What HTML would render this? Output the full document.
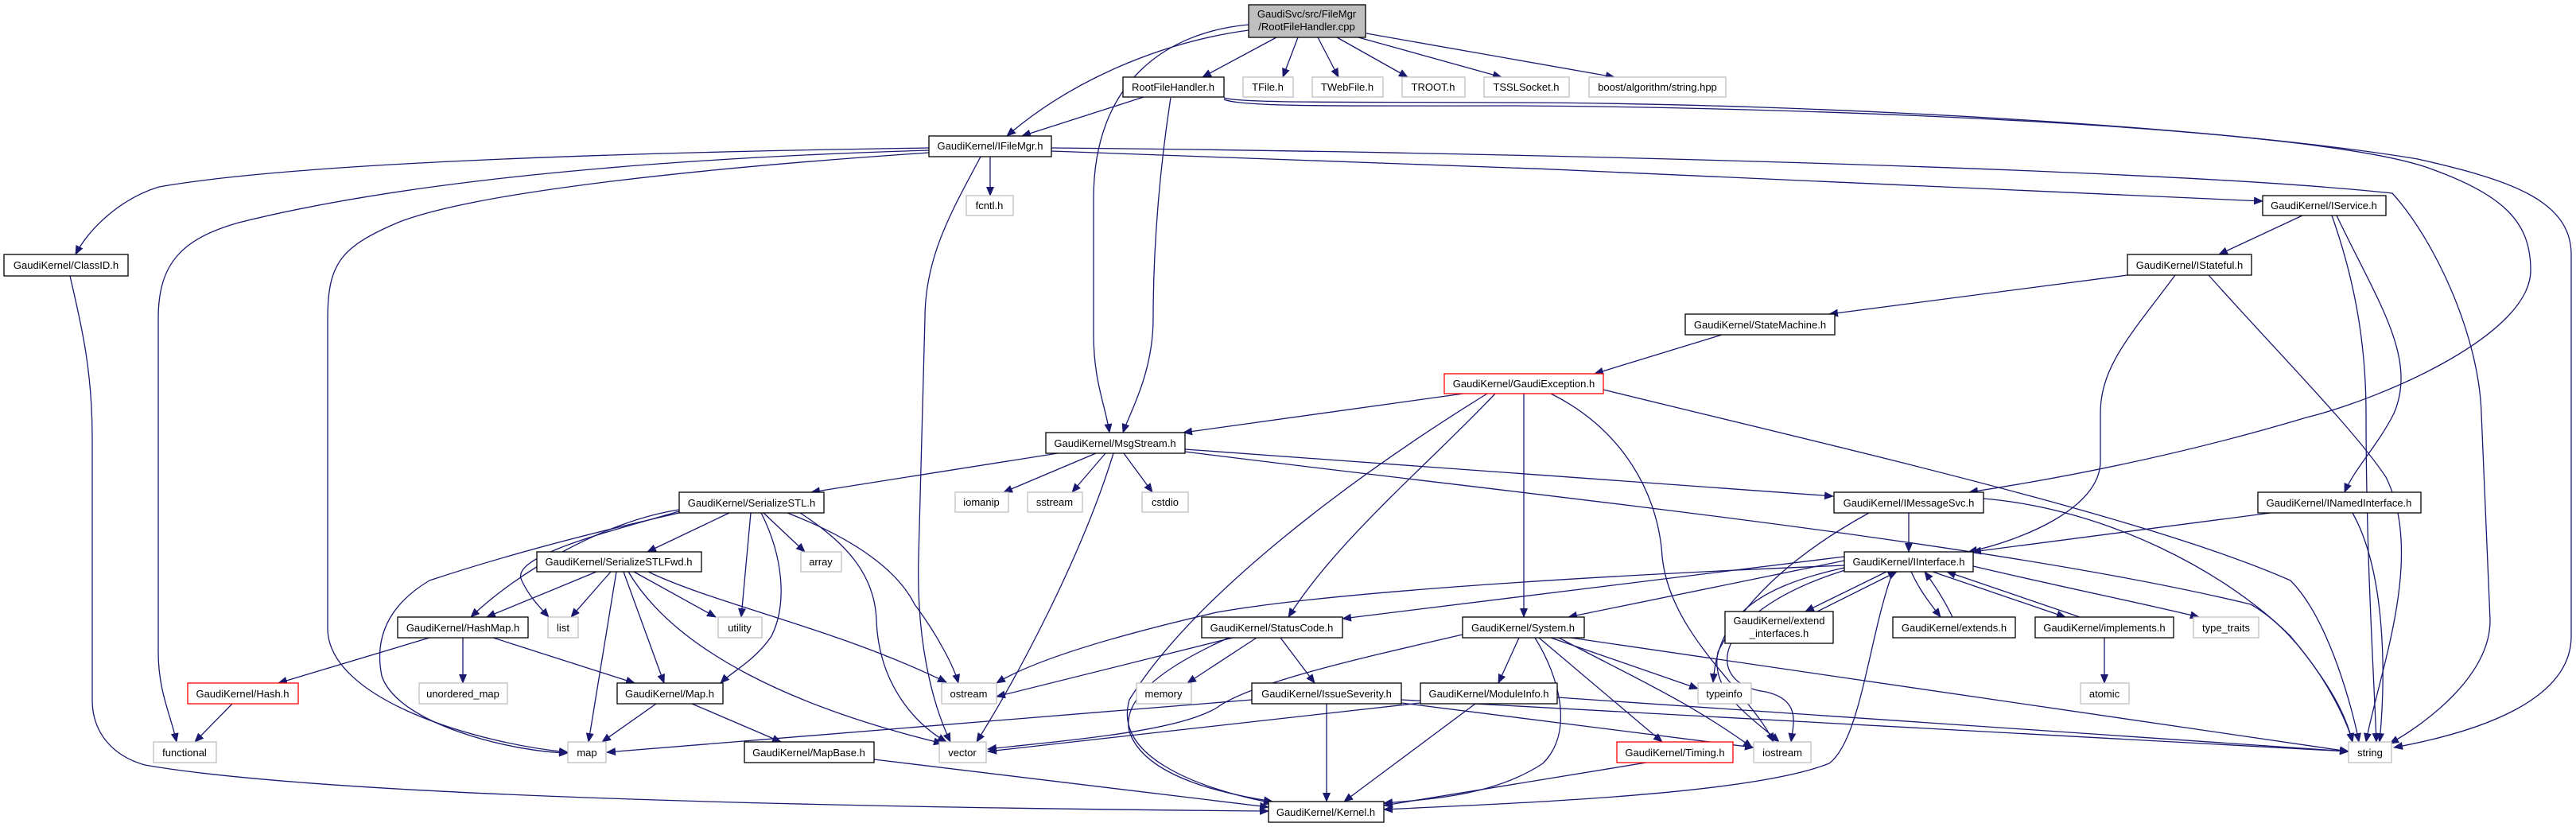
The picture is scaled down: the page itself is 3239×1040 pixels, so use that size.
<!DOCTYPE html>
<html><head><meta charset="utf-8"><style>
html,body{margin:0;padding:0;background:#fff;}
svg{display:block;}
text{font-family:"Liberation Sans",Arial,sans-serif;font-size:13px;fill:#000;text-anchor:middle;}
.e{fill:none;stroke:#191970;stroke-width:1.3;marker-end:url(#a);}
.n{fill:#fff;stroke:#000;stroke-width:1.3;}
.g{fill:#fff;stroke:#bfbfbf;stroke-width:1.3;}
.r{fill:#fff;stroke:#ff0000;stroke-width:1.3;}
</style></head><body>
<svg width="3239" height="1040" viewBox="0 0 3239 1040" xmlns="http://www.w3.org/2000/svg">
<defs><marker id="a" markerUnits="userSpaceOnUse" markerWidth="12" markerHeight="10" refX="11" refY="5" orient="auto"><path d="M0,0 L12,5 L0,10 z" fill="#191970"/></marker></defs>
<g>
<path class="e" d="M1605,47 L1512,97"/>
<path class="e" d="M1632,47 L1613,97"/>
<path class="e" d="M1657,47 L1683,97"/>
<path class="e" d="M1681,47 L1770,97"/>
<path class="e" d="M1708,47 L1888,97"/>
<path class="e" d="M1718,42 L2030,97"/>
<path class="e" d="M1570,38 C1480,50 1360,90 1266,171"/>
<path class="e" d="M1570,31 C1470,40 1375,100 1375,250 L1375,420 C1375,480 1390,510 1395,544"/>
<path class="e" d="M1438,122 L1285,171"/>
<path class="e" d="M1472,123 C1460,200 1450,300 1450,400 C1450,470 1420,520 1412,544"/>
<path class="e" d="M1539,123 C1560,130 1700,128 1900,129 C2300,130 2800,160 3040,200 C3150,225 3233,250 3233,320 L3233,800 C3233,880 3120,920 3010,940"/>
<path class="e" d="M1539,125 C1560,135 1700,133 1900,133 C2300,135 2900,160 3050,210 C3150,245 3182,280 3182,340 C3182,420 3000,500 2900,525 C2750,570 2600,600 2476,619"/>
<path class="e" d="M1168,186 C900,190 400,200 200,235 C150,250 110,290 95,320"/>
<path class="e" d="M1168,189 C800,200 500,230 300,280 C230,300 199,330 199,400 L199,820 C199,870 215,900 222,933"/>
<path class="e" d="M1168,192 C900,210 600,240 500,280 C430,310 412,330 412,400 L412,790 C412,880 600,935 714,946"/>
<path class="e" d="M1245,197 L1245,246"/>
<path class="e" d="M1233,197 C1200,260 1163,320 1163,400 L1155,700 C1152,800 1170,880 1195,933"/>
<path class="e" d="M1322,190 C1800,205 2500,235 2845,253"/>
<path class="e" d="M1322,186 C1800,190 2700,210 3008,243 C3060,300 3117,420 3120,520 L3131,780 C3131,850 3050,910 3005,935"/>
<path class="e" d="M2895,271 L2790,320"/>
<path class="e" d="M2932,271 C2960,350 2975,430 2975,520 C2975,700 2985,850 2988,933"/>
<path class="e" d="M2938,271 C2990,380 3040,450 3010,520 C2990,560 2960,590 2948,619"/>
<path class="e" d="M2675,346 L2300,395"/>
<path class="e" d="M2735,346 C2680,420 2641,460 2641,520 L2641,580 C2641,640 2540,680 2475,694"/>
<path class="e" d="M2777,346 C2870,450 2960,540 3000,600 C3050,700 2990,850 2975,933"/>
<path class="e" d="M2165,421 L2005,470"/>
<path class="e" d="M1840,495 L1488,544"/>
<path class="e" d="M1880,495 C1800,580 1680,680 1620,776"/>
<path class="e" d="M1916,495 L1916,776"/>
<path class="e" d="M1870,495 C1700,600 1500,750 1420,880 C1400,950 1500,990 1600,1010"/>
<path class="e" d="M1950,495 C2040,540 2085,620 2090,700 C2100,800 2200,870 2230,933"/>
<path class="e" d="M2016,490 C2300,560 2700,650 2880,730 C2930,780 2960,900 2966,933"/>
<path class="e" d="M1330,570 L1020,619"/>
<path class="e" d="M1378,570 L1262,619"/>
<path class="e" d="M1390,570 L1348,619"/>
<path class="e" d="M1413,570 L1449,619"/>
<path class="e" d="M1400,570 C1360,700 1280,850 1228,933"/>
<path class="e" d="M1490,565 L2305,624"/>
<path class="e" d="M1490,568 C1900,620 2500,680 2830,760 C2900,800 2950,900 2958,933"/>
<path class="e" d="M917,645 L814,694"/>
<path class="e" d="M854,641 C760,655 650,720 592,776"/>
<path class="e" d="M854,643 C760,670 640,700 656,730 C665,750 680,765 690,776"/>
<path class="e" d="M854,645 C700,680 600,710 540,730 C490,760 470,800 480,850 C500,910 640,945 714,947"/>
<path class="e" d="M960,645 L1012,694"/>
<path class="e" d="M944,645 L932,776"/>
<path class="e" d="M957,645 C985,700 990,760 970,800 C950,830 920,845 906,859"/>
<path class="e" d="M990,645 C1080,680 1130,720 1150,760 C1180,800 1200,840 1205,859"/>
<path class="e" d="M1006,645 C1060,680 1100,720 1102,780 C1105,860 1150,910 1190,933"/>
<path class="e" d="M750,719 L612,776"/>
<path class="e" d="M768,719 L718,776"/>
<path class="e" d="M775,719 L740,933"/>
<path class="e" d="M784,719 L835,859"/>
<path class="e" d="M797,719 L900,776"/>
<path class="e" d="M790,719 C850,820 1000,890 1185,935"/>
<path class="e" d="M815,719 C900,760 1050,790 1190,858"/>
<path class="e" d="M540,802 L350,859"/>
<path class="e" d="M582,802 L582,859"/>
<path class="e" d="M620,802 L798,859"/>
<path class="e" d="M292,885 L245,933"/>
<path class="e" d="M825,885 L757,933"/>
<path class="e" d="M870,885 L982,933"/>
<path class="e" d="M1099,955 L1595,1015"/>
<path class="e" d="M88,347 C100,400 116,460 116,550 L116,880 C116,920 140,950 182,962 C400,1000 1000,1015 1595,1020"/>
<path class="e" d="M1550,802 L1253,876"/>
<path class="e" d="M1580,802 L1493,859"/>
<path class="e" d="M1610,802 L1653,859"/>
<path class="e" d="M1545,802 C1460,840 1410,880 1420,920 C1440,980 1550,1000 1600,1008"/>
<path class="e" d="M1839,798 C1700,830 1570,860 1530,890 C1480,920 1350,930 1242,942"/>
<path class="e" d="M1910,802 L1884,859"/>
<path class="e" d="M1950,802 L2135,866"/>
<path class="e" d="M1975,802 L2953,945"/>
<path class="e" d="M1935,802 L2090,933"/>
<path class="e" d="M1930,802 C1960,850 1980,920 1940,960 C1880,1000 1800,1005 1740,1010"/>
<path class="e" d="M1960,802 C2050,850 2120,880 2203,940"/>
<path class="e" d="M1574,880 L763,946"/>
<path class="e" d="M1668,885 L1668,1008"/>
<path class="e" d="M1762,880 L2953,945"/>
<path class="e" d="M1762,884 L2205,940"/>
<path class="e" d="M1786,884 L1242,945"/>
<path class="e" d="M1855,885 L1690,1008"/>
<path class="e" d="M1958,877 L2953,945"/>
<path class="e" d="M2070,959 L1740,1013"/>
<path class="e" d="M2380,719 C2350,800 2340,930 2300,960 C2200,1000 1900,1010 1740,1018"/>
<path class="e" d="M2319,711 C2100,720 1700,740 1530,770 C1400,800 1300,830 1253,859"/>
<path class="e" d="M2319,700 L1688,778"/>
<path class="e" d="M2319,705 L1972,776"/>
<path class="e" d="M2319,714 C2200,740 2160,780 2154,858"/>
<path class="e" d="M2320,717 C2150,770 2140,860 2220,870 C2265,880 2255,910 2252,933"/>
<path class="e" d="M2372,719 L2270,769"/>
<path class="e" d="M2285,769 L2385,719"/>
<path class="e" d="M2403,719 C2415,745 2428,760 2440,776"/>
<path class="e" d="M2455,776 C2445,755 2432,735 2420,719"/>
<path class="e" d="M2430,719 L2597,776"/>
<path class="e" d="M2615,776 L2448,719"/>
<path class="e" d="M2481,712 C2600,740 2700,760 2765,776"/>
<path class="e" d="M2400,645 L2400,694"/>
<path class="e" d="M2494,627 C2650,640 2800,720 2880,800 C2930,860 2950,900 2958,933"/>
<path class="e" d="M2350,645 C2250,700 2190,760 2160,820 C2150,870 2200,900 2237,933"/>
<path class="e" d="M2855,645 L2480,694"/>
<path class="e" d="M2958,645 C3000,720 3000,850 2992,933"/>
<path class="e" d="M2646,802 L2646,859"/>
</g>
<g>
<rect x="1570" y="6" width="147" height="41" fill="#bfbfbf" stroke="#000" stroke-width="1.3"/>
<text x="1643" y="22">GaudiSvc/src/FileMgr</text><text x="1643" y="38">/RootFileHandler.cpp</text>
<rect class="n" x="1412" y="97" width="127" height="25"/><text x="1475" y="114">RootFileHandler.h</text>
<rect class="g" x="1563" y="97" width="63" height="25"/><text x="1594" y="114">TFile.h</text>
<rect class="g" x="1650" y="97" width="89" height="25"/><text x="1694" y="114">TWebFile.h</text>
<rect class="g" x="1763" y="97" width="79" height="25"/><text x="1802" y="114">TROOT.h</text>
<rect class="g" x="1866" y="97" width="107" height="25"/><text x="1919" y="114">TSSLSocket.h</text>
<rect class="g" x="1998" y="97" width="172" height="25"/><text x="2084" y="114">boost/algorithm/string.hpp</text>
<rect class="n" x="1168" y="171" width="154" height="26"/><text x="1245" y="188">GaudiKernel/IFileMgr.h</text>
<rect class="g" x="1215" y="246" width="59" height="25"/><text x="1244" y="263">fcntl.h</text>
<rect class="n" x="5" y="320" width="156" height="27"/><text x="83" y="338">GaudiKernel/ClassID.h</text>
<rect class="n" x="2845" y="246" width="155" height="25"/><text x="2922" y="263">GaudiKernel/IService.h</text>
<rect class="n" x="2675" y="320" width="156" height="26"/><text x="2753" y="338">GaudiKernel/IStateful.h</text>
<rect class="n" x="2119" y="395" width="188" height="26"/><text x="2213" y="413">GaudiKernel/StateMachine.h</text>
<rect class="r" x="1816" y="470" width="200" height="25"/><text x="1916" y="487">GaudiKernel/GaudiException.h</text>
<rect class="n" x="1315" y="544" width="175" height="26"/><text x="1402" y="562">GaudiKernel/MsgStream.h</text>
<rect class="n" x="854" y="619" width="182" height="26"/><text x="945" y="637">GaudiKernel/SerializeSTL.h</text>
<rect class="g" x="1201" y="619" width="67" height="25"/><text x="1234" y="636">iomanip</text>
<rect class="g" x="1292" y="619" width="69" height="25"/><text x="1326" y="636">sstream</text>
<rect class="g" x="1436" y="619" width="58" height="25"/><text x="1465" y="636">cstdio</text>
<rect class="n" x="2306" y="619" width="188" height="26"/><text x="2400" y="637">GaudiKernel/IMessageSvc.h</text>
<rect class="n" x="2839" y="619" width="205" height="26"/><text x="2941" y="637">GaudiKernel/INamedInterface.h</text>
<rect class="n" x="675" y="694" width="207" height="25"/><text x="778" y="711">GaudiKernel/SerializeSTLFwd.h</text>
<rect class="g" x="1007" y="694" width="51" height="25"/><text x="1032" y="711">array</text>
<rect class="n" x="2319" y="694" width="162" height="25"/><text x="2400" y="711">GaudiKernel/IInterface.h</text>
<rect class="n" x="500" y="776" width="164" height="26"/><text x="582" y="794">GaudiKernel/HashMap.h</text>
<rect class="g" x="689" y="776" width="38" height="26"/><text x="708" y="794">list</text>
<rect class="g" x="903" y="776" width="55" height="26"/><text x="930" y="794">utility</text>
<rect class="n" x="1511" y="776" width="177" height="26"/><text x="1599" y="794">GaudiKernel/StatusCode.h</text>
<rect class="n" x="1839" y="776" width="153" height="26"/><text x="1915" y="794">GaudiKernel/System.h</text>
<rect class="n" x="2169" y="769" width="136" height="40"/><text x="2237" y="785">GaudiKernel/extend</text><text x="2237" y="801">_interfaces.h</text>
<rect class="n" x="2380" y="776" width="154" height="26"/><text x="2457" y="794">GaudiKernel/extends.h</text>
<rect class="n" x="2559" y="776" width="174" height="26"/><text x="2646" y="794">GaudiKernel/implements.h</text>
<rect class="g" x="2758" y="776" width="82" height="26"/><text x="2799" y="794">type_traits</text>
<rect class="r" x="236" y="859" width="139" height="26"/><text x="305" y="877">GaudiKernel/Hash.h</text>
<rect class="g" x="527" y="859" width="111" height="26"/><text x="582" y="877">unordered_map</text>
<rect class="n" x="776" y="859" width="133" height="26"/><text x="842" y="877">GaudiKernel/Map.h</text>
<rect class="g" x="1184" y="859" width="69" height="26"/><text x="1218" y="877">ostream</text>
<rect class="g" x="1429" y="859" width="69" height="26"/><text x="1463" y="877">memory</text>
<rect class="n" x="1574" y="859" width="188" height="26"/><text x="1668" y="877">GaudiKernel/IssueSeverity.h</text>
<rect class="n" x="1786" y="859" width="172" height="26"/><text x="1872" y="877">GaudiKernel/ModuleInfo.h</text>
<rect class="g" x="2135" y="859" width="67" height="26"/><text x="2168" y="877">typeinfo</text>
<rect class="g" x="2616" y="859" width="61" height="26"/><text x="2646" y="877">atomic</text>
<rect class="g" x="193" y="933" width="79" height="26"/><text x="232" y="951">functional</text>
<rect class="g" x="714" y="933" width="48" height="26"/><text x="738" y="951">map</text>
<rect class="n" x="936" y="933" width="163" height="26"/><text x="1017" y="951">GaudiKernel/MapBase.h</text>
<rect class="g" x="1181" y="933" width="59" height="26"/><text x="1210" y="951">vector</text>
<rect class="r" x="2033" y="933" width="146" height="26"/><text x="2106" y="951">GaudiKernel/Timing.h</text>
<rect class="g" x="2205" y="933" width="72" height="26"/><text x="2241" y="951">iostream</text>
<rect class="g" x="2953" y="933" width="54" height="26"/><text x="2980" y="951">string</text>
<rect class="n" x="1595" y="1008" width="145" height="26"/><text x="1667" y="1026">GaudiKernel/Kernel.h</text>
</g>
</svg>
</body></html>
